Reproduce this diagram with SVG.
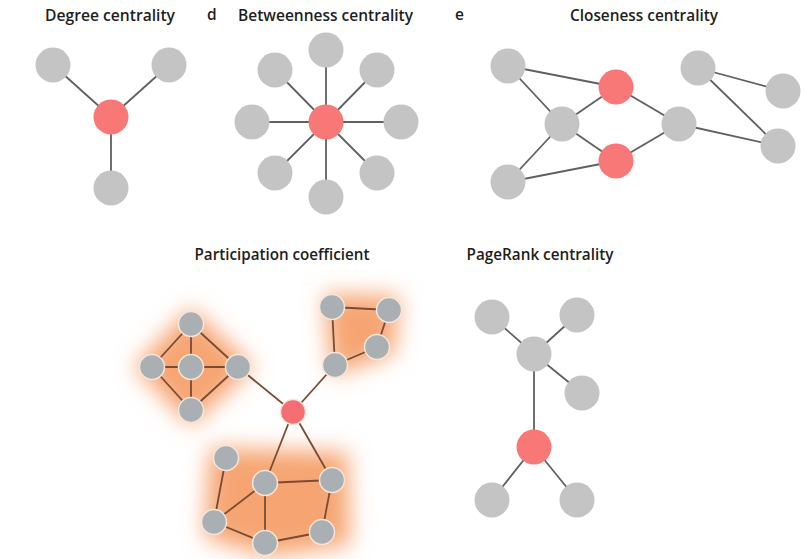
<svg xmlns="http://www.w3.org/2000/svg" width="806" height="559" viewBox="0 0 806 559">
<defs>
<style>
.t{font-family:"Open Sans","Liberation Sans",sans-serif;font-size:15.5px;fill:#1e1e1e;font-weight:600}
.g{fill:#c4c4c4}
.r{fill:#f87878}
.e line{stroke:#606060;stroke-width:1.8}
.pe line{stroke:#7a4a32;stroke-width:1.8}
.pg{fill:#a9afb3;stroke:#f3e6da;stroke-width:1.5}
.pr{fill:#f56e72;stroke:#f3e6da;stroke-width:1.5}
.blob{fill:#f6a572;filter:url(#blur)}
</style>
<filter id="blur" x="-50%" y="-50%" width="200%" height="200%"><feGaussianBlur stdDeviation="11"/></filter>
</defs>
<rect width="806" height="559" fill="#ffffff"/>

<!-- titles -->
<g id="titles">
<text class="t" x="110" y="21" text-anchor="middle" textLength="130" lengthAdjust="spacingAndGlyphs">Degree centrality</text>
<text class="t" x="207" y="20">d</text>
<text class="t" x="325.5" y="21" text-anchor="middle" textLength="175" lengthAdjust="spacingAndGlyphs">Betweenness centrality</text>
<text class="t" x="455" y="20">e</text>
<text class="t" x="644" y="21" text-anchor="middle" textLength="148" lengthAdjust="spacingAndGlyphs">Closeness centrality</text>
<text class="t" x="282" y="260" text-anchor="middle" textLength="175" lengthAdjust="spacingAndGlyphs">Participation coefficient</text>
<text class="t" x="540" y="260" text-anchor="middle" textLength="147" lengthAdjust="spacingAndGlyphs">PageRank centrality</text>
</g>

<!-- Degree centrality -->
<g id="degree">
<g class="e">
<line x1="53" y1="65" x2="111" y2="117"/>
<line x1="169" y1="65" x2="111" y2="117"/>
<line x1="111" y1="117" x2="111" y2="188"/>
</g>
<g id="deg-n1"><circle class="g" cx="53" cy="65" r="17.5"/></g>
<g id="deg-n2"><circle class="g" cx="169" cy="65" r="17.5"/></g>
<g id="deg-c"><circle class="r" cx="111" cy="117" r="17.5"/></g>
<g id="deg-n3"><circle class="g" cx="111" cy="188" r="17.5"/></g>
</g>

<!-- Betweenness centrality -->
<g id="betweenness">
<g class="e">
<line x1="326" y1="122" x2="326" y2="50"/>
<line x1="326" y1="122" x2="275" y2="70"/>
<line x1="326" y1="122" x2="377" y2="70"/>
<line x1="326" y1="122" x2="252" y2="122"/>
<line x1="326" y1="122" x2="401" y2="122"/>
<line x1="326" y1="122" x2="275" y2="173"/>
<line x1="326" y1="122" x2="377" y2="173"/>
<line x1="326" y1="122" x2="326" y2="197"/>
</g>
<g id="bet-n1"><circle class="g" cx="326" cy="50" r="17.5"/></g>
<g id="bet-n2"><circle class="g" cx="275" cy="70" r="17.5"/></g>
<g id="bet-n3"><circle class="g" cx="377" cy="70" r="17.5"/></g>
<g id="bet-n4"><circle class="g" cx="252" cy="122" r="17.5"/></g>
<g id="bet-n5"><circle class="g" cx="401" cy="122" r="17.5"/></g>
<g id="bet-n6"><circle class="g" cx="275" cy="173" r="17.5"/></g>
<g id="bet-n7"><circle class="g" cx="377" cy="173" r="17.5"/></g>
<g id="bet-n8"><circle class="g" cx="326" cy="197" r="17.5"/></g>
<g id="bet-c"><circle class="r" cx="326" cy="122" r="17.5"/></g>
</g>

<!-- Closeness centrality -->
<g id="closeness">
<g class="e">
<line x1="508" y1="66" x2="616" y2="87"/>
<line x1="508" y1="66" x2="562" y2="124"/>
<line x1="562" y1="124" x2="616" y2="87"/>
<line x1="562" y1="124" x2="616" y2="161"/>
<line x1="562" y1="124" x2="508" y2="182"/>
<line x1="508" y1="182" x2="616" y2="161"/>
<line x1="616" y1="87" x2="679" y2="124"/>
<line x1="616" y1="161" x2="679" y2="124"/>
<line x1="679" y1="124" x2="778" y2="146"/>
<line x1="698" y1="68" x2="783" y2="91"/>
<line x1="698" y1="68" x2="778" y2="146"/>
</g>
<g id="clo-n1"><circle class="g" cx="508" cy="66" r="17.5"/></g>
<g id="clo-r1"><circle class="r" cx="616" cy="87" r="17.5"/></g>
<g id="clo-n2"><circle class="g" cx="562" cy="124" r="17.5"/></g>
<g id="clo-r2"><circle class="r" cx="616" cy="161" r="17.5"/></g>
<g id="clo-n3"><circle class="g" cx="508" cy="182" r="17.5"/></g>
<g id="clo-n4"><circle class="g" cx="679" cy="124" r="17.5"/></g>
<g id="clo-n5"><circle class="g" cx="698" cy="68" r="17.5"/></g>
<g id="clo-n6"><circle class="g" cx="783" cy="91" r="17.5"/></g>
<g id="clo-n7"><circle class="g" cx="778" cy="146" r="17.5"/></g>
</g>

<!-- Participation coefficient -->
<g id="participation">
<g id="blobs">
<polygon class="blob" points="191,308 254,367 191,426 134,367"/>
<polygon class="blob" points="324,294 400,296 394,354 332,376"/>
<polygon class="blob" points="210,448 348,452 350,545 270,556 204,538"/>
</g>
<g class="pe">
<line x1="191" y1="324" x2="152" y2="367"/>
<line x1="191" y1="324" x2="238" y2="367"/>
<line x1="191" y1="324" x2="191" y2="367"/>
<line x1="152" y1="367" x2="238" y2="367"/>
<line x1="152" y1="367" x2="191" y2="410"/>
<line x1="238" y1="367" x2="191" y2="410"/>
<line x1="191" y1="367" x2="191" y2="410"/>
<line x1="238" y1="367" x2="293" y2="412"/>
<line x1="332" y1="307" x2="389" y2="310"/>
<line x1="389" y1="310" x2="377" y2="347"/>
<line x1="377" y1="347" x2="335" y2="365"/>
<line x1="335" y1="365" x2="332" y2="307"/>
<line x1="335" y1="365" x2="293" y2="412"/>
<line x1="293" y1="412" x2="265" y2="483"/>
<line x1="293" y1="412" x2="332" y2="480"/>
<line x1="226" y1="458" x2="214" y2="522"/>
<line x1="214" y1="522" x2="265" y2="483"/>
<line x1="214" y1="522" x2="265" y2="543"/>
<line x1="265" y1="483" x2="332" y2="480"/>
<line x1="265" y1="483" x2="265" y2="543"/>
<line x1="332" y1="480" x2="322" y2="532"/>
<line x1="265" y1="543" x2="322" y2="532"/>
</g>
<g id="par-a1"><circle class="pg" cx="191" cy="324" r="12.5"/></g>
<g id="par-a2"><circle class="pg" cx="152" cy="367" r="12.5"/></g>
<g id="par-a3"><circle class="pg" cx="191" cy="367" r="12.5"/></g>
<g id="par-a4"><circle class="pg" cx="238" cy="367" r="12.5"/></g>
<g id="par-a5"><circle class="pg" cx="191" cy="410" r="12.5"/></g>
<g id="par-b1"><circle class="pg" cx="332" cy="307" r="12.5"/></g>
<g id="par-b2"><circle class="pg" cx="389" cy="310" r="12.5"/></g>
<g id="par-b3"><circle class="pg" cx="377" cy="347" r="12.5"/></g>
<g id="par-b4"><circle class="pg" cx="335" cy="365" r="12.5"/></g>
<g id="par-c1"><circle class="pg" cx="226" cy="458" r="12.5"/></g>
<g id="par-c2"><circle class="pg" cx="265" cy="483" r="12.5"/></g>
<g id="par-c3"><circle class="pg" cx="332" cy="480" r="12.5"/></g>
<g id="par-c4"><circle class="pg" cx="214" cy="522" r="12.5"/></g>
<g id="par-c5"><circle class="pg" cx="265" cy="543" r="12.5"/></g>
<g id="par-c6"><circle class="pg" cx="322" cy="532" r="12.5"/></g>
<g id="par-hub"><circle class="pr" cx="293" cy="412" r="12.5"/></g>
</g>

<!-- PageRank centrality -->
<g id="pagerank">
<g class="e">
<line x1="492" y1="317" x2="534" y2="354"/>
<line x1="577" y1="315" x2="534" y2="354"/>
<line x1="534" y1="354" x2="582" y2="393"/>
<line x1="534" y1="354" x2="534" y2="447"/>
<line x1="534" y1="447" x2="492" y2="500"/>
<line x1="534" y1="447" x2="577" y2="500"/>
</g>
<g id="pr-n1"><circle class="g" cx="492" cy="317" r="17.5"/></g>
<g id="pr-n2"><circle class="g" cx="577" cy="315" r="17.5"/></g>
<g id="pr-n3"><circle class="g" cx="534" cy="354" r="17.5"/></g>
<g id="pr-n4"><circle class="g" cx="582" cy="393" r="17.5"/></g>
<g id="pr-c"><circle class="r" cx="534" cy="447" r="17.5"/></g>
<g id="pr-n5"><circle class="g" cx="492" cy="500" r="17.5"/></g>
<g id="pr-n6"><circle class="g" cx="577" cy="500" r="17.5"/></g>
</g>
</svg>
